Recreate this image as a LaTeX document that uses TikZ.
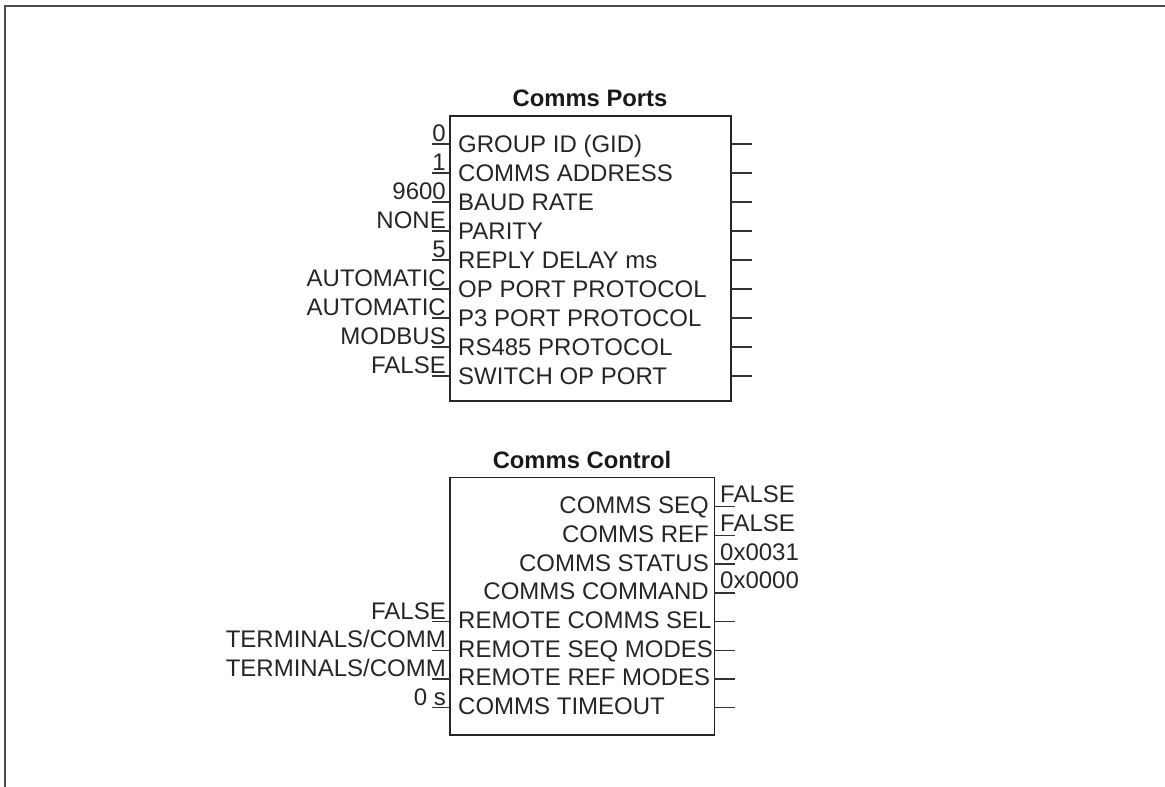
\documentclass[tikz,border=0pt]{standalone}
\usepackage{fontspec}
\setmainfont{Liberation Sans}
\begin{document}
\begin{tikzpicture}[x=1pt,y=-1pt,
  lbl/.style={font=\fontsize{24}{27}\selectfont, inner sep=0pt, text=black!85},
  ttl/.style={font=\fontsize{23.8}{27}\selectfont\bfseries, inner sep=0pt, text=black!90},
  blk/.style={draw=black!85, line width=1.4pt, inner sep=0pt, outer sep=0pt},
  stub/.style={draw=black!80, line width=1.4pt},
  frame/.style={draw=black!70, line width=2pt}]
\useasboundingbox (0,0) rectangle (1165,787);
\draw[frame] (4.5,787) -- (4.5,5.5) -- (1165,5.5);

% ---------- Comms Ports ----------
\node[blk, minimum width=281pt, minimum height=285pt] (ports) at (590.5,258.5) {};
\node[ttl, anchor=base] (portsT) at (590,106) {Comms Ports};
\foreach \v/\t [count=\i from 0] in {0/GROUP ID (GID), 1/COMMS ADDRESS, 9600/BAUD RATE, NONE/PARITY, 5/REPLY DELAY ms, AUTOMATIC/OP PORT PROTOCOL, AUTOMATIC/P3 PORT PROTOCOL, MODBUS/RS485 PROTOCOL, FALSE/SWITCH OP PORT}{
  \pgfmathsetmacro{\yy}{144+29*\i}
  \coordinate (pin\i) at (432,\yy);
  \coordinate (pout\i) at (752,\yy);
  \draw[stub] (pin\i) -- (ports.west |- pin\i);
  \draw[stub] (ports.east |- pout\i) -- (pout\i);
  \node[lbl, anchor=base east] (pv\i) at (446,\yy-2.5) {\v};
  \node[lbl, anchor=base west] (pt\i) at (458,\yy+8.5) {\t};
}

% ---------- Comms Control ----------
\node[blk, minimum width=264.3pt, minimum height=257.3pt] (ctrl) at (582.2,606.4) {};
\node[ttl, anchor=base] (ctrlT) at (582,468) {Comms Control};
\foreach \t/\v [count=\i from 0] in {COMMS SEQ/FALSE, COMMS REF/FALSE, COMMS STATUS/0x0031, COMMS COMMAND/0x0000}{
  \pgfmathsetmacro{\yy}{506.7+28.7*\i}
  \coordinate (cout\i) at (735,\yy);
  \draw[stub] (ctrl.east |- cout\i) -- (cout\i);
  \node[lbl, anchor=base west] (cv\i) at (720,\yy-4) {\v};
  \node[lbl, anchor=base east] (ct\i) at (709,\yy+7) {\t};
}
\foreach \i/\v/\t in {4/FALSE/REMOTE COMMS SEL, 5/{TERMINALS/COMM}/REMOTE SEQ MODES, 6/{TERMINALS/COMM}/REMOTE REF MODES, 7/0 s/COMMS TIMEOUT}{
  \pgfmathsetmacro{\yy}{506.7+28.7*\i}
  \coordinate (cin\i) at (432,\yy);
  \coordinate (cout\i) at (735,\yy);
  \draw[stub] (cin\i) -- (ctrl.west |- cin\i);
  \draw[stub] (ctrl.east |- cout\i) -- (cout\i);
  \node[lbl, anchor=base east] (cv\i) at (446,\yy-2.5) {\v};
  \node[lbl, anchor=base west] (ct\i) at (458,\yy+7) {\t};
}
\end{tikzpicture}
\end{document}
